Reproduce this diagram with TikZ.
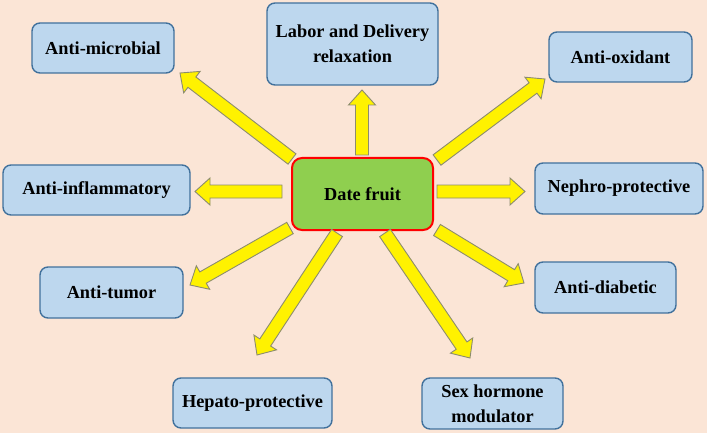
\documentclass[tikz,border=0pt]{standalone}
\usepackage{fontspec}
\setmainfont{Liberation Serif}
\usetikzlibrary{calc}
\definecolor{bgpeach}{HTML}{FBE5D6}
\definecolor{boxblue}{HTML}{BDD7EE}
\definecolor{boxedge}{HTML}{41719C}
\definecolor{datefill}{HTML}{8FCF4F}
\definecolor{arrowedge}{HTML}{8C8C6E}
\tikzset{
  benefit/.style={draw=boxedge, fill=boxblue, line width=1.4pt, rounded corners=8pt,
    font=\bfseries\fontsize{18.3}{25}\selectfont, align=center, inner sep=0pt},
  centrebox/.style={draw=red, fill=datefill, line width=2pt, rounded corners=10pt,
    font=\bfseries\fontsize{18.3}{25}\selectfont, inner sep=0pt},
  blockarrow/.style={fill=yellow, draw=arrowedge, line width=0.9pt, line join=miter}
}
\newcommand{\barrow}[2]{%
  \path ($(#2)!15pt!(#1)$) coordinate (h);
  \filldraw[blockarrow] ($(#1)!6.5pt!90:(#2)$) -- ($(h)!6.5pt!90:(#2)$) -- ($(h)!13.5pt!90:(#2)$)
    -- (#2) -- ($(h)!13.5pt!-90:(#2)$) -- ($(h)!6.5pt!-90:(#2)$) -- ($(#1)!6.5pt!-90:(#2)$) -- cycle;
}
\begin{document}
\begin{tikzpicture}[x=1pt,y=-1pt]
\fill[bgpeach] (0,0) rectangle (707,433);
\useasboundingbox (0,0) rectangle (707,433);
% boxes
\node[benefit, minimum width=142pt, minimum height=50pt] (micro) at (103,48) {Anti-microbial};
\node[benefit, minimum width=171pt, minimum height=82pt] (labor) at (352.5,44) {Labor and Delivery\\relaxation};
\node[benefit, minimum width=143pt, minimum height=50pt] (oxid) at (620.5,57) {Anti-oxidant};
\node[benefit, minimum width=187pt, minimum height=50pt] (inflam) at (96.5,190) {Anti-inflammatory};
\node[centrebox, minimum width=141pt, minimum height=72pt] (date) at (362.5,194) {Date fruit};
\node[benefit, minimum width=168pt, minimum height=51pt] (nephro) at (619,188.5) {Nephro-protective};
\node[benefit, minimum width=143pt, minimum height=51pt] (tumor) at (111.5,292.5) {Anti-tumor};
\node[benefit, minimum width=141pt, minimum height=51pt] (diab) at (605.5,287.5) {Anti-diabetic};
\node[benefit, minimum width=159pt, minimum height=50pt] (hepato) at (252.5,403) {Hepato-protective};
\node[benefit, minimum width=141pt, minimum height=51pt] (sex) at (492.5,403.5) {Sex hormone\\modulator};
% arrow ends
\coordinate (t1) at (292,159); \coordinate (e1) at (180,73);
\coordinate (t2) at (362,155); \coordinate (e2) at (362,90);
\coordinate (t3) at (437,160); \coordinate (e3) at (545,79);
\coordinate (t4) at (282,191.5); \coordinate (e4) at (195,191.5);
\coordinate (t5) at (437,191.5); \coordinate (e5) at (525,191.5);
\coordinate (t6) at (290,228); \coordinate (e6) at (190,285);
\coordinate (t7) at (437,230); \coordinate (e7) at (524,283);
\coordinate (t8) at (337,233); \coordinate (e8) at (257,355);
\coordinate (t9) at (385,233); \coordinate (e9) at (470,358);
\foreach \i in {1,...,9} {\barrow{t\i}{e\i}}
\end{tikzpicture}
\end{document}
